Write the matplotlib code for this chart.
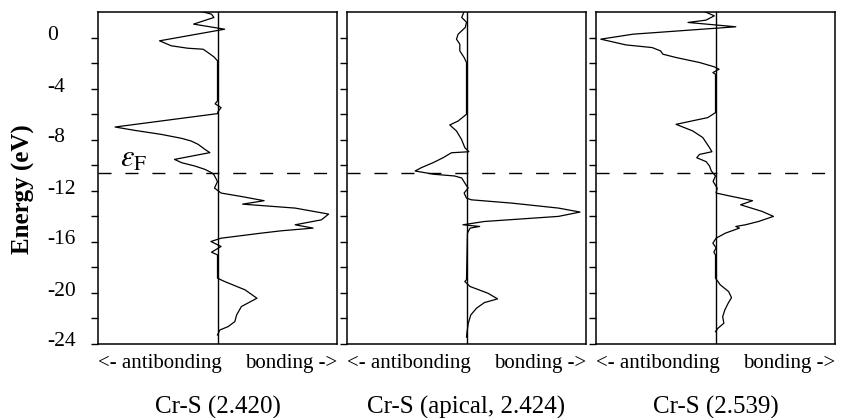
import matplotlib
matplotlib.use("Agg")
import matplotlib.pyplot as plt
from matplotlib.transforms import ScaledTranslation

plt.rcParams["font.family"] = ["Liberation Serif", "DejaVu Serif"]
plt.rcParams["mathtext.fontset"] = "stix"

# COOP curves: energy (eV) and overlap population (arb.)
e_1 = [2.04, 1.83, 1.57, 1.05, 0.65, -0.26, -0.65, -0.84, -0.92, -1.18, -1.52, -1.83,
       -4.97, -5.2, -5.5, -5.8, -5.97, -7.02, -7.28, -7.6, -7.91, -8.12, -8.38, -8.77,
       -9.03, -9.56, -9.82, -10.08, -10.34, -10.6, -10.76, -11.29, -11.81, -12.2, -12.47,
       -12.8, -13.07, -13.38, -13.85, -14.3, -14.69, -14.95, -15.16, -15.34, -15.74, -16.0,
       -16.39, -16.84, -17.05, -18.88, -19.14, -19.79, -20.45, -21.1, -21.76, -22.28,
       -22.67, -22.94, -23.33]
coop_1 = [-0.134, -0.05, -0.03, -0.20, 0.06, -0.485, -0.387, -0.25, -0.12, -0.08, -0.03, 0.0,
          0.0, -0.02, 0.03, 0.005, 0.0, -0.857, -0.695, -0.47, -0.30, -0.22, -0.162, -0.106,
          -0.064, -0.36, -0.30, -0.19, -0.106, -0.05, -0.03, 0.0, -0.025, 0.03, 0.2,
          0.39, 0.21, 0.65, 0.93, 0.87, 0.65, 0.8, 0.535, 0.37, 0.03, -0.055,
          0.03, -0.05, 0.0, 0.0, 0.06, 0.23, 0.33, 0.2, 0.16, 0.145,
          0.09, 0.02, 0.0]

e_2 = [2.04, 1.57, 1.2, 0.79, 0.26, -0.13, -0.52, -1.05, -1.57, -1.96, -6.02, -6.55,
       -6.86, -7.33, -7.99, -8.64, -8.96, -9.04, -9.43, -9.82, -10.21, -10.47, -10.73,
       -10.86, -11.02, -11.55, -11.8, -12.2, -12.6, -12.73, -12.99, -13.38, -13.69, -14.03,
       -14.43, -14.69, -14.82, -14.95, -15.34, -19.0, -19.14, -19.53, -20.06, -20.5,
       -20.79, -21.23, -21.76, -22.41, -23.07, -23.5]
coop_2 = [-0.02, -0.04, 0.0, -0.01, -0.07, -0.084, -0.056, -0.056, -0.02, 0.0, 0.0, -0.07,
          -0.14, -0.084, -0.042, -0.014, 0.02, -0.126, -0.196, -0.28, -0.378, -0.43, -0.27,
          -0.1, -0.04, -0.005, 0.014, -0.02, 0.0, 0.04, 0.38, 0.77, 0.95, 0.77,
          0.15, -0.03, 0.11, 0.03, 0.008, 0.0, -0.014, 0.03, 0.18, 0.26,
          0.15, 0.084, 0.036, 0.015, 0.005, 0.0]

e_3 = [2.09, 1.7, 1.36, 1.18, 0.84, 0.26, -0.13, -0.58, -0.79, -1.05, -1.31, -1.57,
       -1.96, -2.3, -2.49, -2.75, -2.88, -5.89, -6.28, -6.81, -7.33, -7.85, -8.64, -8.96,
       -9.17, -9.43, -9.74, -10.08, -10.47, -10.86, -11.29, -11.81, -12.2, -12.47, -12.8,
       -13.12, -13.64, -14.03, -14.43, -14.69, -14.82, -14.95, -15.34, -15.74, -16.13,
       -16.5, -16.84, -17.05, -18.88, -19.4, -19.93, -20.4, -20.84, -21.37, -21.9, -22.41,
       -22.81, -23.07]
coop_3 = [-0.106, -0.01, -0.08, -0.23, 0.17, -0.69, -0.96, -0.75, -0.53, -0.46, -0.44, -0.33,
          -0.134, -0.01, 0.03, -0.022, 0.0, 0.0, -0.064, -0.33, -0.19, -0.106, -0.05, -0.03,
          -0.134, -0.157, -0.078, -0.05, -0.035, 0.0, -0.02, 0.014, 0.005, 0.14, 0.31,
          0.21, 0.39, 0.485, 0.36, 0.25, 0.17, 0.2, 0.084, 0.005, -0.022,
          0.005, -0.014, 0.0, 0.0, 0.04, 0.11, 0.134, 0.106, 0.078, 0.06, 0.07,
          0.02, 0.0]

titles = ["Cr-S (2.420)", "Cr-S (apical, 2.424)", "Cr-S (2.539)"]
fermi = -10.6
y_major = [0, -4, -8, -12, -16, -20, -24]
y_minor = [-2, -6, -10, -14, -18, -22]

fig = plt.figure(figsize=(8.44, 4.18), dpi=100)
lefts = [98 / 844, 347 / 844, 596 / 844]
width = 239 / 844
bottom = 1 - 343.5 / 418
height = (343.5 - 12) / 418

curves = [(e_1, coop_1), (e_2, coop_2), (e_3, coop_3)]
for i, (en, cp) in enumerate(curves):
    ax = fig.add_axes([lefts[i], bottom, width, height])
    ax.plot(cp, en, color="black", lw=0.9)
    ax.axvline(0, color="black", lw=1.0)
    ax.axhline(fermi, color="black", lw=1.0, dashes=(9.4, 10))
    ax.set_xlim(-1, 1)
    ax.set_ylim(-24, 2)
    ax.set_xticks([])
    ax.set_yticks(y_major)
    ax.set_yticks(y_minor, minor=True)
    ax.tick_params(axis="y", which="both", direction="out", length=5, width=1.0)
    for s in ax.spines.values():
        s.set_linewidth(1.1)
    if i == 0:
        ax.tick_params(axis="y", pad=31.7, labelsize=15.5)
        ax.set_yticklabels([str(v) for v in y_major])
        off = ScaledTranslation(0, 4 / 100, fig.dpi_scale_trans)
        for lbl in ax.get_yticklabels():
            lbl.set_ha("left")
            lbl.set_transform(lbl.get_transform() + off)
        ax.text(-0.815, -10.13, r"$\varepsilon_{\mathrm{F}}$", fontsize=22,
                va="baseline", ha="left")
    else:
        ax.set_yticklabels([])
    ax.text(0.0, -0.059, "<- antibonding", transform=ax.transAxes, fontsize=15,
            ha="left", va="center")
    ax.text(1.0, -0.059, "bonding ->", transform=ax.transAxes, fontsize=15,
            ha="right", va="center")
    ax.text(0.5, -0.1916, titles[i], transform=ax.transAxes, fontsize=18,
            ha="center", va="center")

fig.text(23 / 844, 1 - 189 / 418, "Energy (eV)", rotation=90, fontsize=18,
         fontweight="bold", ha="center", va="center")

fig.savefig("out.png", dpi=100)
